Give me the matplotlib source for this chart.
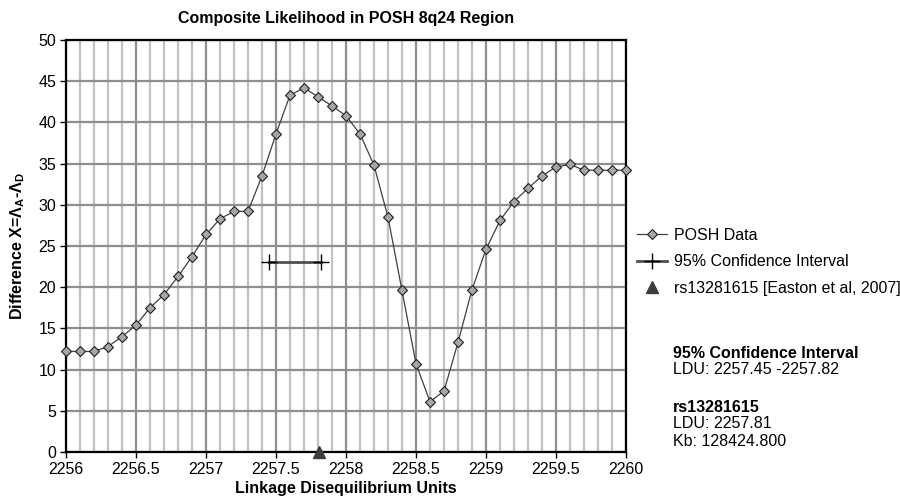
import numpy as np
import matplotlib
matplotlib.use("Agg")
import matplotlib.pyplot as plt
from matplotlib.ticker import MultipleLocator, FormatStrFormatter

plt.rcParams['font.family'] = ['Liberation Sans', 'DejaVu Sans']
plt.rcParams['mathtext.fontset'] = 'custom'
plt.rcParams['mathtext.rm'] = 'Liberation Sans'
plt.rcParams['mathtext.bf'] = 'Liberation Sans:bold'

# data
ldu = [2256.0, 2256.1, 2256.2, 2256.3, 2256.4, 2256.5, 2256.6, 2256.7, 2256.8, 2256.9,
       2257.0, 2257.1, 2257.2, 2257.3, 2257.4, 2257.5, 2257.6, 2257.7, 2257.8, 2257.9,
       2258.0, 2258.1, 2258.2, 2258.3, 2258.4, 2258.5, 2258.6, 2258.7, 2258.8, 2258.9,
       2259.0, 2259.1, 2259.2, 2259.3, 2259.4, 2259.5, 2259.6, 2259.7, 2259.8, 2259.9,
       2260.0]
posh = [12.2, 12.2, 12.2, 12.8, 14.0, 15.4, 17.5, 19.1, 21.3, 23.7,
        26.4, 28.3, 29.2, 29.2, 33.5, 38.6, 43.3, 44.2, 43.1, 42.0,
        40.8, 38.6, 34.8, 28.5, 19.6, 10.7, 6.1, 7.4, 13.3, 19.7,
        24.6, 28.1, 30.4, 32.0, 33.5, 34.6, 34.9, 34.2, 34.2, 34.2,
        34.2]
ci_x = [2257.45, 2257.82]
ci_y = [23.0, 23.0]
snp_x = [2257.81]
snp_y = [0.0]

FS = 11.5

fig = plt.figure(figsize=(9, 5.03), dpi=100)
ax = fig.add_axes([66/900, 51/503, 560/900, 412/503])

ax.plot(ldu, posh, color='#404040', lw=0.9, marker='D', ms=5,
        mfc='#a6a6a6', mec='#202020', mew=0.8, label='POSH Data',
        clip_on=False, zorder=4)
ax.plot(ci_x, ci_y, color='#505050', lw=2, marker='+', ms=11,
        mec='black', mew=1, label='95% Confidence Interval', zorder=4)
ax.plot(snp_x, snp_y, ls='none', marker='^', ms=9, color='#3c3c3c',
        label='rs13281615 [Easton et al, 2007]', clip_on=False, zorder=6)

ax.set_xlim(2256, 2260)
ax.set_ylim(0, 50)
ax.xaxis.set_major_locator(MultipleLocator(0.5))
ax.xaxis.set_minor_locator(MultipleLocator(0.1))
ax.yaxis.set_major_locator(MultipleLocator(5))
ax.xaxis.set_major_formatter(FormatStrFormatter('%g'))
ax.grid(which='minor', axis='x', color='#c0c0c6', lw=1.6)
ax.grid(which='major', axis='x', color='#8e8e8e', lw=1.6)
ax.grid(which='major', axis='y', color='#8e8e8e', lw=1.6)
ax.set_axisbelow(True)
ax.tick_params(which='major', direction='out', length=4, width=1,
               labelsize=FS, pad=3)
ax.tick_params(which='minor', length=0)
for s in ax.spines.values():
    s.set_linewidth(1.6)
    s.set_color('black')

ax.set_title('Composite Likelihood in POSH 8q24 Region', fontsize=FS,
             fontweight='bold', pad=12)
ax.set_xlabel('Linkage Disequilibrium Units', fontsize=FS, fontweight='bold',
              labelpad=3)
ax.set_ylabel(r'Difference X=$\mathbf{\Lambda_A}$-$\mathbf{\Lambda_D}$',
              fontsize=FS, fontweight='bold', labelpad=8)

leg = ax.legend(loc='upper left', bbox_to_anchor=(637/900, 1 - 228/503),
                bbox_transform=fig.transFigure, frameon=False, fontsize=FS,
                handlelength=1.9, handletextpad=0.4, labelspacing=0.72,
                borderaxespad=0, borderpad=0)
for h in leg.legend_handles:
    if h.get_marker() == '^':
        h.set_markersize(8)

tx = 673/900
fig.text(tx, 1 - 353/503, '95% Confidence Interval', fontsize=FS,
         fontweight='bold', va='center')
fig.text(tx, 1 - 370/503, 'LDU: 2257.45 -2257.82', fontsize=FS, va='center')
fig.text(tx, 1 - 407/503, 'rs13281615', fontsize=FS, fontweight='bold',
         va='center')
fig.text(tx, 1 - 424/503, 'LDU: 2257.81', fontsize=FS, va='center')
fig.text(tx, 1 - 441/503, 'Kb: 128424.800', fontsize=FS, va='center')

fig.savefig('out.png', dpi=100)
